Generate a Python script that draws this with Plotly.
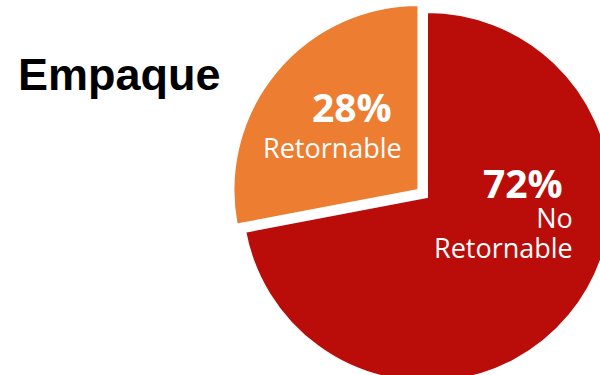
import plotly.graph_objects as go

# Packaging split (percent of units)
categories = ["No Retornable", "Retornable"]
shares = [72, 28]
slice_colors = ["#BA0C09", "#ED7D31"]
slice_pull = [0.0, 0.06]
chart_title = "Empaque"

# Canvas is a bit larger than the visible page so the pie runs off the right/bottom edge
W, H = 640, 400
CX, CY, R = 427, 197, 185          # pie centre and radius in px
box = R * (1 + max(slice_pull))    # half-size of the pie domain box


def px_x(x):
    return x / W


def px_y(y):
    return 1 - y / H


fig = go.Figure(
    go.Pie(
        labels=categories,
        values=shares,
        sort=False,
        direction="clockwise",
        rotation=0,
        pull=slice_pull,
        marker=dict(colors=slice_colors, line=dict(color="white", width=2)),
        textinfo="none",
        hoverinfo="skip",
        showlegend=False,
        domain=dict(
            x=[px_x(CX - box), px_x(CX + box)],
            y=[px_y(CY + box), px_y(CY - box)],
        ),
    )
)

total = sum(shares)
# label block per slice: right edge and vertical centre (px), words per line, line pitch font
label_layout = {
    "No Retornable": dict(right=575, mid=211, lines=[["No"], ["Retornable"]], pitch=23),
    "Retornable": dict(right=404, mid=123, lines=[["Retornable"]], pitch=27.7),
}

annotations = [
    dict(
        text=chart_title, x=px_x(16), y=px_y(74), xref="paper", yref="paper",
        xanchor="left", yanchor="middle", showarrow=False,
        font=dict(family="Liberation Sans, Arial", size=45, color="black", weight="bold"),
    )
]
for cat, val in zip(categories, shares):
    pos = label_layout[cat]
    pct = f"<span style='font-size:39px'><b>{round(100 * val / total)}%&nbsp;</b></span>"
    names = [f"<span style='font-size:27px'>{' '.join(words)}</span>" for words in pos["lines"]]
    annotations.append(dict(
        text="<br>".join([pct] + names),
        x=px_x(pos["right"]), y=px_y(pos["mid"]), xref="paper", yref="paper",
        xanchor="right", yanchor="middle", align="right", showarrow=False,
        font=dict(family="Open Sans", size=pos["pitch"], color="white"),
    ))

fig.update_layout(
    width=W, height=H,
    margin=dict(l=0, r=0, t=0, b=0),
    paper_bgcolor="white", plot_bgcolor="white",
    annotations=annotations,
)

fig.write_html(
    "out.html",
    config={"displayModeBar": False, "staticPlot": True},
    post_script="document.documentElement.style.overflow='hidden';document.body.style.overflow='hidden';document.body.style.margin='0';",
)
